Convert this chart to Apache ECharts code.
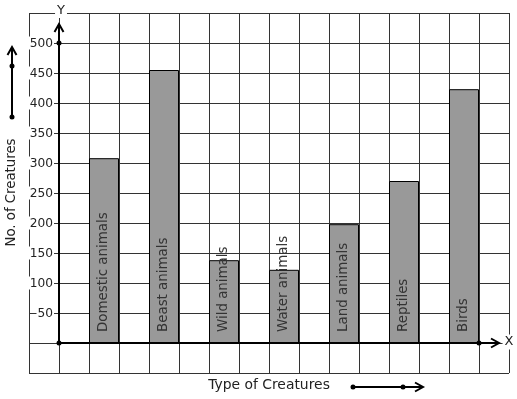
<!DOCTYPE html>
<html><head><meta charset="utf-8">
<script src="https://cdn.jsdelivr.net/npm/echarts@6/dist/echarts.min.js"></script>
<style>html,body{margin:0;padding:0;background:#fff}#c{width:517px;height:399px}</style>
</head><body><div id="c"></div>
<script>
const categories = ['Domestic animals','Beast animals','Wild animals','Water animals','Land animals','Reptiles','Birds'];
const creatureCounts = [308, 455, 138, 122, 198, 270, 423];
const yTickLabels = [50, 100, 150, 200, 250, 300, 350, 400, 450, 500];
const xAxisTitle = 'Type of Creatures';
const yAxisTitle = 'No. of Creatures';

const FONT = '"DejaVu Sans", sans-serif';
const chart = echarts.init(document.getElementById('c'), null, {renderer: 'canvas'});
const option = {
  animation: false,
  backgroundColor: '#fff',
  grid: [
    {left: 29, top: 13, width: 480, height: 360},
    {left: 74, top: 13, width: 420, height: 360}
  ],
  xAxis: [
    {gridIndex: 0, type: 'value', min: -1, max: 15, interval: 1, z: 1,
     axisLine: {show: false}, axisTick: {show: false}, axisLabel: {show: false},
     splitLine: {show: true, lineStyle: {color: '#333', width: 1}}},
    {gridIndex: 1, type: 'category', data: categories, show: false}
  ],
  yAxis: [
    {gridIndex: 0, type: 'value', min: -50, max: 550, interval: 50, offset: -30, z: 3,
     axisLine: {show: false}, axisTick: {show: false},
     axisLabel: {show: true, margin: 5,
       formatter: v => yTickLabels.includes(v) ? '{a|' + v + '}' : '',
       rich: {a: {color: '#222', fontFamily: FONT, fontSize: 12.2, backgroundColor: '#fff', padding: [1, 1, 0, 1]}}},
     splitLine: {show: true, lineStyle: {color: '#333', width: 1}}},
    {gridIndex: 1, type: 'value', min: -50, max: 550, show: false}
  ],
  series: [{
    type: 'bar', xAxisIndex: 1, yAxisIndex: 1, data: creatureCounts, barWidth: 30, z: 5,
    itemStyle: {color: '#999', borderColor: '#000', borderWidth: 1},
    label: {show: true, formatter: '{b}', position: 'insideBottom', rotate: 90,
      align: 'left', verticalAlign: 'middle', distance: 10, offset: [1, 0],
      color: '#333', fontFamily: FONT, fontSize: 13.4}
  }]
};
chart.setOption(option);

const P = (x, y) => chart.convertToPixel({gridIndex: 0}, [x, y]);
const o = P(0, 0);
const y500 = P(0, 500);
const xDot = P(14, 0);
const xTip = o[0] + 440;
const yTip = 24;
const K = '#000';
function chevron(tx, ty, dir) {
  const pts = dir === 'r' ? [[tx - 8, ty - 4.5], [tx, ty], [tx - 8, ty + 4.5]]
                          : [[tx - 4.5, ty + 8], [tx, ty], [tx + 4.5, ty + 8]];
  return {type: 'polyline', z: 100, shape: {points: pts}, style: {stroke: K, lineWidth: 2, fill: null}};
}
function dot(x, y) { return {type: 'circle', z: 101, shape: {cx: x, cy: y, r: 2.5}, style: {fill: K}}; }
function line(x1, y1, x2, y2) { return {type: 'line', z: 100, shape: {x1, y1, x2, y2}, style: {stroke: K, lineWidth: 2}}; }
function txt(t, x, y, size, rot, bg) {
  return {type: 'text', z: 102, x: x, y: y, rotation: rot || 0,
    style: {text: t, x: 0, y: 0, align: 'center', verticalAlign: 'middle',
      font: size + 'px "DejaVu Sans"', fill: '#222', backgroundColor: bg ? '#fff' : null, padding: bg ? [1, 2] : 0}};
}
chart.setOption({graphic: [
  line(o[0], o[1], xTip, o[1]), chevron(xTip, o[1], 'r'),
  line(o[0], o[1], o[0], yTip), chevron(o[0], yTip, 'u'),
  dot(o[0], o[1]), dot(y500[0], y500[1]), dot(xDot[0], xDot[1]),
  txt('Y', 61, 10.5, 13, 0, true), txt('X', 509, 342, 13, 0, true),
  txt(yAxisTitle, 12, 192.5, 13.3, Math.PI / 2, false),
  line(12, 117, 12, 47), chevron(12, 47, 'u'), dot(12, 117), dot(12, 66),
  txt(xAxisTitle, 269, 385, 13.9, 0, false),
  line(353, 387, 423, 387), chevron(423, 387, 'r'), dot(353, 387), dot(403, 387)
]});
</script></body></html>
